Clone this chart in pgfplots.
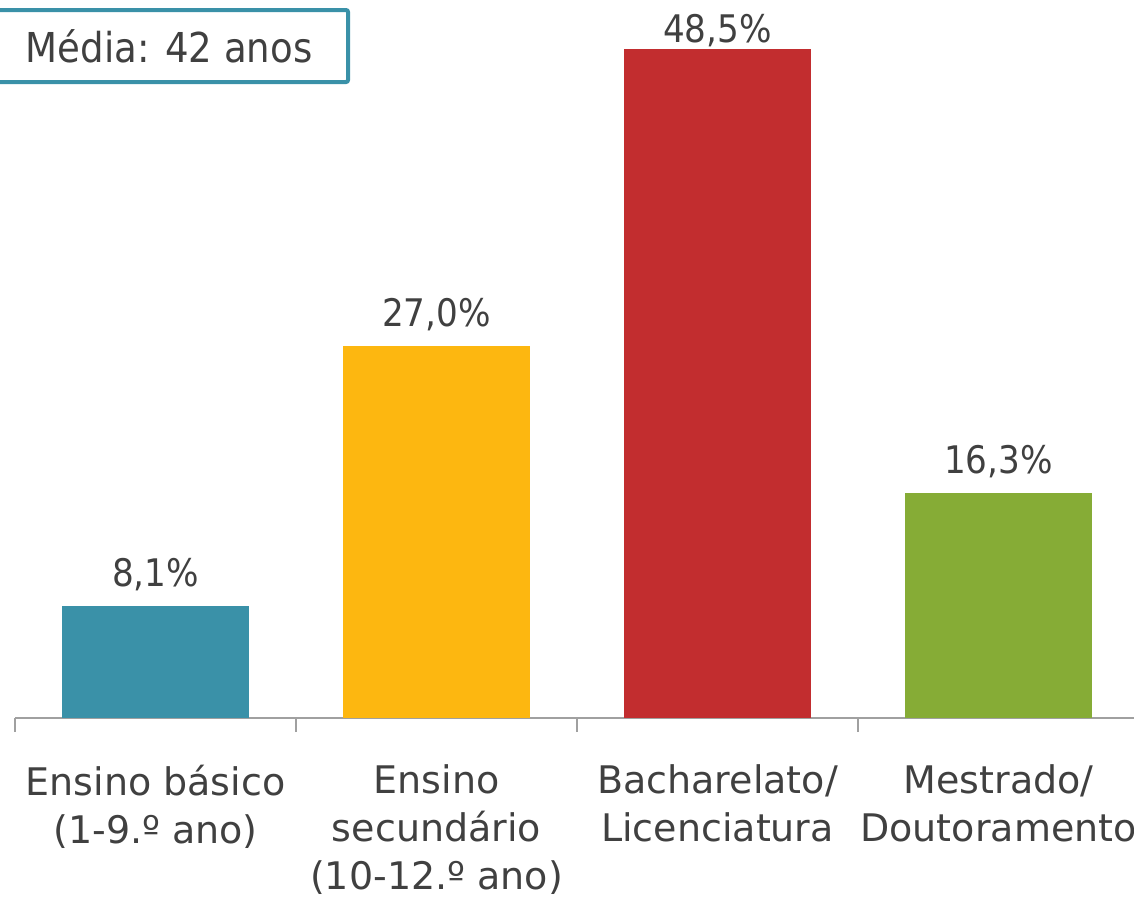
\documentclass[border=0pt]{standalone}
\usepackage{fontspec}
\setmainfont{DejaVu Sans Condensed}
\newfontfamily\labfont{DejaVu Sans}
\usepackage{pgfplots}
\pgfplotsset{compat=1.18}
\definecolor{cteal}{RGB}{58,145,168}
\definecolor{cyellow}{RGB}{253,183,16}
\definecolor{cred}{RGB}{194,45,47}
\definecolor{cgreen}{RGB}{134,172,54}
\definecolor{txt}{RGB}{64,64,64}
\definecolor{axgray}{RGB}{160,160,160}
\begin{document}
\begin{tikzpicture}
\useasboundingbox (0,0) rectangle (283.5pt,226pt);
\begin{axis}[
    at={(3.75pt,46.5pt)}, anchor=south west,
    scale only axis,
    width=281pt, height=172.4pt,
    xmin=-0.5, xmax=3.5, ymin=0, ymax=50,
    axis x line*=bottom, axis y line=none,
    x axis line style={axgray, line width=0.5pt},
    xtick={0,1,2,3},
    xticklabels={{Ensino básico\\(1-9.º ano)},{Ensino\\secundário\\(10-12.º ano)},{Bacharelato/\\Licenciatura},{Mestrado/\\Doutoramento}},
    major x tick style={draw=none},
    minor xtick={-0.5,0.5,1.5,2.5,3.5},
    minor x tick style={axgray, line width=0.5pt},
    minor tick length=3.5pt, major tick length=0pt,
    tick align=outside,
    xticklabel style={align=center, text=txt, font=\labfont\fontsize{9.5}{12}\selectfont, inner sep=0pt, anchor=north, yshift=-11.5pt},
    ybar, bar width=46.75pt, bar shift=0pt,
    nodes near coords={\pgfmathprintnumber[fixed,fixed zerofill,precision=1,use comma,assume math mode=true]{\pgfplotspointmeta}\%},
    nodes near coords style={anchor=base, yshift=4.9pt, inner sep=0pt, text=txt, font=\fontsize{9.5}{12}\selectfont},
    clip=false,
]
\addplot[fill=cteal, draw=none] coordinates {(0,8.1)};
\addplot[fill=cyellow, draw=none] coordinates {(1,27.0)};
\addplot[fill=cred, draw=none, nodes near coords style={yshift=-3.3pt}] coordinates {(2,48.5)};
\addplot[fill=cgreen, draw=none] coordinates {(3,16.3)};
\end{axis}
\draw[cteal, line width=1pt, rounded corners=0.5pt] (-2pt,205.5pt) rectangle (87pt,223.5pt);
\node[anchor=base west, inner sep=0pt, text=txt, font=\fontsize{10.3}{12}\selectfont] at (6.25pt,210.5pt) {Média: 42 anos};
\end{tikzpicture}
\end{document}
